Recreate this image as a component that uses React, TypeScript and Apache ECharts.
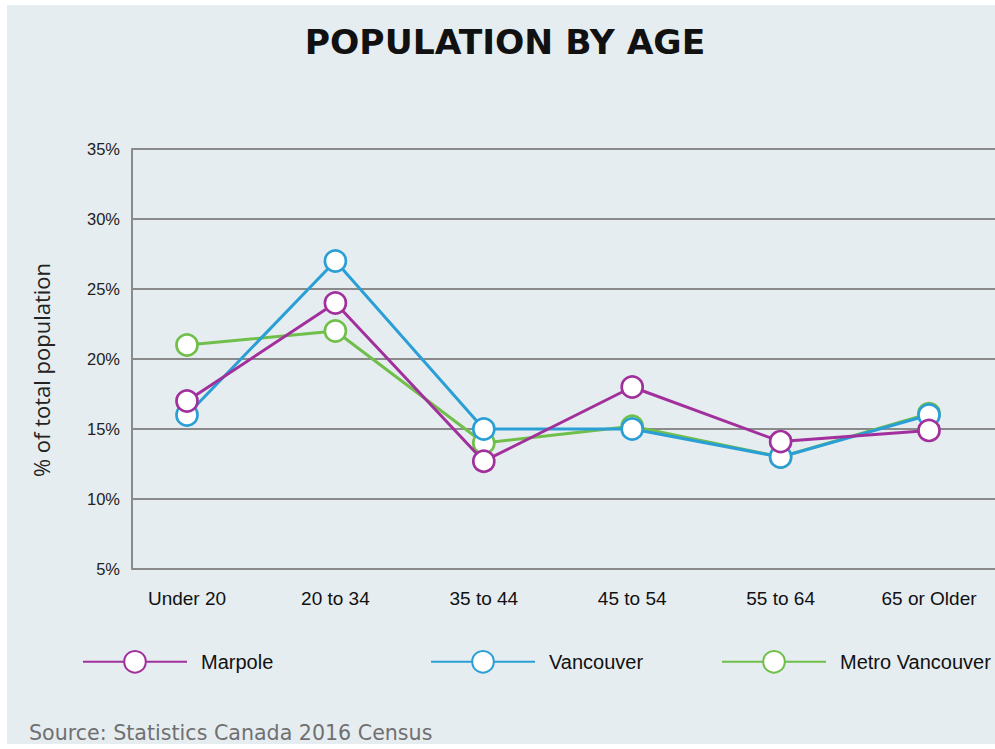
import React, { useEffect, useRef } from "react";
import * as echarts from "echarts";

const categories = ["Under 20", "20 to 34", "35 to 44", "45 to 54", "55 to 64", "65 or Older"];
const marpole = [17, 24, 12.7, 18, 14.1, 14.9];
const vancouver = [16, 27, 15, 15, 13, 16];
const metroVancouver = [21, 22, 14, 15.2, 13, 16.1];
const yTickValues = [5, 10, 15, 20, 25, 30, 35];
const seriesNames = ["Marpole", "Vancouver", "Metro Vancouver"];
const seriesColors = ["#a1309c", "#2a9fd6", "#6fbf4a"];

const FONT = "'Liberation Sans', Arial, sans-serif";

export default function App() {
  const ref = useRef<HTMLDivElement>(null);

  useEffect(() => {
    if (!ref.current) return;
    const chart = echarts.init(ref.current, undefined, { renderer: "svg" });
    const values = [marpole, vancouver, metroVancouver];
    const zs = [4, 3, 2];
    const series = seriesNames.map((name, k) => ({
      name,
      type: "line",
      z: zs[k],
      data: values[k].map((v, i) => [i, v]),
      symbol: "circle",
      symbolSize: 21,
      lineStyle: { color: seriesColors[k], width: 3 },
      itemStyle: { color: "#ffffff", borderColor: seriesColors[k], borderWidth: 2.7 },
      emphasis: { disabled: true },
    }));
    const legendLefts = [82, 430, 721];
    chart.setOption({
      animation: false,
      backgroundColor: "transparent",
      title: [
        {
          text: "POPULATION BY AGE",
          left: 505,
          top: 24,
          padding: 0,
          textAlign: "center",
          textStyle: { fontFamily: "'DejaVu Sans', sans-serif", fontWeight: "bold", fontSize: 34.5, color: "#111" },
        },
        {
          text: "Source: Statistics Canada 2016 Census",
          left: 29,
          top: 722,
          padding: 0,
          textStyle: { fontFamily: "'DejaVu Sans', sans-serif", fontWeight: "normal", fontSize: 20.6, color: "#707070" },
        },
      ],
      legend: seriesNames.map((n, k) => ({
        data: [n],
        left: legendLefts[k],
        top: 650,
        padding: 0,
        itemWidth: 104,
        itemHeight: 27,
        selectedMode: false,
        textStyle: { fontFamily: FONT, fontSize: 20, color: "#111", padding: [0, 0, 0, 9] },
      })),
      grid: { left: 132, right: 0, top: 149, bottom: 180, containLabel: false },
      xAxis: {
        type: "value",
        min: -0.3706,
        max: 5.4447,
        axisLine: { show: false },
        axisTick: { show: false },
        splitLine: { show: false },
        axisLabel: {
          customValues: categories.map((_, i) => i),
          formatter: (v: number) => categories[Math.round(v)] ?? "",
          margin: 20,
          fontFamily: FONT,
          fontSize: 19,
          color: "#111",
        },
      },
      yAxis: {
        type: "value",
        min: yTickValues[0],
        max: yTickValues[yTickValues.length - 1],
        interval: 5,
        name: "% of total population",
        nameLocation: "middle",
        nameGap: 80,
        nameRotate: 90,
        nameTextStyle: { fontFamily: "'Open Sans', sans-serif", fontSize: 22, color: "#222", padding: [0, 22, 0, 0] },
        axisLine: { show: true, onZero: false, lineStyle: { color: "#8a8a8a", width: 2 } },
        axisTick: { show: false },
        splitLine: { show: true, lineStyle: { color: "#8a8a8a", width: 2 } },
        axisLabel: {
          formatter: "{value}%",
          margin: 12,
          fontFamily: FONT,
          fontSize: 16.5,
          color: "#222",
        },
      },
      series,
    });
    return () => chart.dispose();
  }, []);

  return (
    <div style={{ position: "fixed", left: 0, top: 0, width: 995, height: 749, background: "#ffffff" }}>
      <div style={{ position: "absolute", left: 7, top: 5, width: 988, height: 739, background: "#e6edf0" }} />
      <div ref={ref} style={{ position: "absolute", left: 0, top: 0, width: 995, height: 749 }} />
    </div>
  );
}
